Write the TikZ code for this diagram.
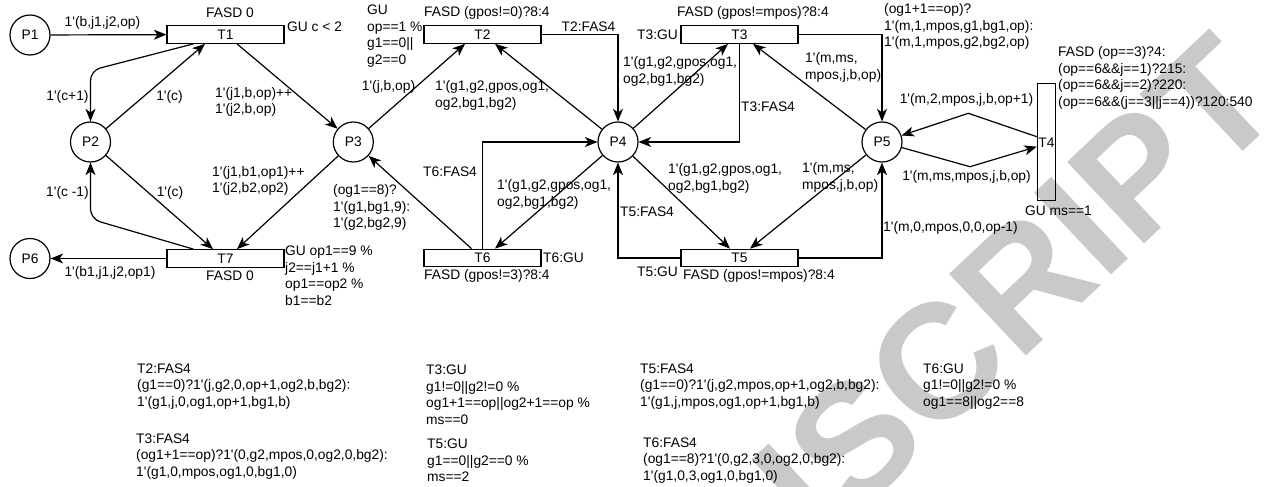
\documentclass[tikz,border=0pt]{standalone}
\usepackage{fontspec}
\setmainfont{Liberation Sans}[Ligatures=TeXOff]
\usetikzlibrary{arrows.meta,calc}

\tikzset{
  every node/.style={font=\fontsize{13.8}{16.56}\selectfont},
  placenode/.style={circle, draw, line width=1.2pt, minimum size=40pt, inner sep=0pt},
  trnode/.style={rectangle, draw, line width=1.2pt, minimum width=117pt, minimum height=17.5pt, inner sep=0pt},
  vtrnode/.style={rectangle, draw, line width=1.2pt, minimum width=18.3pt, minimum height=117pt, inner sep=0pt},
  flow/.style={line width=1.2pt, -{Stealth[length=12.5pt,width=10pt,inset=3.5pt]}},
  lbl/.style={inner sep=0pt, align=left, anchor=west},
  lblc/.style={inner sep=0pt, align=center},
}

\begin{document}
\begin{tikzpicture}[x=1pt,y=-1pt]
\fill[white] (0,0) rectangle (1266,487);
\useasboundingbox (0,0) rectangle (1266,487);

% watermark behind everything
\begin{scope}
  \clip (0,0) rectangle (1266,487);
  \node[rotate=43.3, anchor=east, inner sep=0pt, text=black!21,
        font=\fontsize{163}{163}\selectfont\bfseries] (wm) at (1250,68) {MANUSCRIPT};
\end{scope}

% places
\node[placenode] (P1) at (30,35) {P1};
\node[placenode] (P2) at (90.5,142) {P2};
\node[placenode] (P3) at (353.3,142) {P3};
\node[placenode] (P4) at (618,142) {P4};
\node[placenode] (P5) at (882,142) {P5};
\node[placenode] (P6) at (30,258.5) {P6};

% transitions
\node[trnode] (T1) at (225.5,34.5) {T1};
\node[trnode] (T2) at (482.5,34.5) {T2};
\node[trnode] (T3) at (739.5,34.5) {T3};
\node[vtrnode] (T4) at (1046.5,141.7) {};
\node[lblc] (T4t) at (1046.5,142.5) {T4};
\node[trnode] (T5) at (739.5,258) {T5};
\node[trnode] (T6) at (482.5,258) {T6};
\node[trnode] (T7) at (225.5,258.5) {T7};

% waypoints
\coordinate (w1) at (90.5,70.5);
\coordinate (w2) at (90.5,219);
\coordinate (w3) at (968.3,113.3);
\coordinate (w4) at (970,166.7);

% arcs
\draw[flow] (P1) -- (T1);
\draw[flow, rounded corners=10pt] ($(T1.south)+(-32,0)$) -- (w1) -- (P2);
\draw[flow] (P2) -- ($(T1.south)+(-20.5,0)$);
\draw[flow] ($(T1.south)+(11.5,0)$) -- (P3);
\draw[flow] (P3) -- ($(T2.south)+(-17.5,0)$);
\draw[flow] (P4) -- ($(T2.south)+(12.5,0)$);
\draw[flow] (T2.east) -| (P4);
\draw[flow] (P4) -- ($(T3.south)+(-11.5,0)$);
\draw[flow] (T3.south) |- (P4);
\draw[flow] (P5) -- ($(T3.south)+(13.5,0)$);
\draw[flow] (T3.east) -| (P5);
\draw[flow] ($(T4.west)+(0,-5)$) -- (w3) -- (P5);
\draw[flow] (P5) -- (w4) -- ($(T4.west)+(0,5)$);
\draw[flow] (P4) -- ($(T5.north)+(-9.5,0)$);
\draw[flow] (P5) -- ($(T5.north)+(10.5,0)$);
\draw[flow] (T5.west) -| (P4);
\draw[flow] (T5.east) -| (P5);
\draw[flow] (P4) -- ($(T6.north)+(12.5,0)$);
\draw[flow] (T6.north) |- (P4);
\draw[flow] ($(T6.north)+(-11,0)$) -- (P3);
\draw[flow] (P2) -- ($(T7.north)+(-12.5,0)$);
\draw[flow, rounded corners=10pt] ($(T7.north)+(-32,0)$) -- (w2) -- (P2);
\draw[flow] (P3) -- ($(T7.north)+(11.5,0)$);
\draw[flow] (T7) -- (P6);

% inscriptions, upper half
\node[lblc] (a1) at (102.5,23.3) {1'(b,j1,j2,op)};
\node[lbl] (f1) at (206,13) {FASD 0};
\node[lbl] (g1) at (287,27) {GU c < 2};
\node[lblc] (a2) at (67.5,96.7) {1'(c+1)};
\node[lblc] (a3) at (169.5,96.7) {1'(c)};
\node[lbl] (a4) at (215,102) {1'(j1,b,op)++\\1'(j2,b,op)};
\node[lblc] (a5) at (388.5,86.7) {1'(j,b,op)};
\node[lbl] (g2) at (367,36) {GU\\op==1 \%\\g1==0||\\g2==0};
\node[lbl] (f2) at (424,13) {FASD (gpos!=0)?8:4};
\node[lbl] (a6) at (435,95.7) {1'(g1,g2,gpos,og1,\\og2,bg1,bg2)};
\node[lblc] (a7) at (588.5,26.5) {T2:FAS4};
\node[lbl] (g3) at (637,35) {T3:GU};
\node[lbl] (f3) at (677,13) {FASD (gpos!=mpos)?8:4};
\node[lbl] (a8) at (623,71.5) {1'(g1,g2,gpos,og1,\\og2,bg1,bg2)};
\node[lbl] (a9) at (741,107) {T3:FAS4};
\node[lbl] (a10) at (805,67.5) {1'(m,ms,\\mpos,j,b,op)};
\node[lbl] (a11) at (884,26.7) {(og1+1==op)?\\1'(m,1,mpos,g1,bg1,op):\\1'(m,1,mpos,g2,bg2,op)};
\node[lblc] (a12) at (966.5,100) {1'(m,2,mpos,j,b,op+1)};
\node[lblc] (a13) at (966.5,176.7) {1'(m,ms,mpos,j,b,op)};
\node[lbl] (f4) at (1058,78) {FASD (op==3)?4:\\(op==6\&\&j==1)?215:\\(op==6\&\&j==2)?220:\\(op==6\&\&(j==3||j==4))?120:540};
\node[lbl] (g4) at (1025,211) {GU ms==1};

% inscriptions, lower half
\node[lbl] (b1) at (620,211.7) {T5:FAS4};
\node[lbl] (b2) at (668,178.3) {1'(g1,g2,gpos,og1,\\og2,bg1,bg2)};
\node[lbl] (b3) at (802,177.5) {1'(m,ms,\\mpos,j,b,op)};
\node[lbl] (b4) at (883,228) {1'(m,0,mpos,0,0,op-1)};
\node[lbl] (g5) at (637,271.7) {T5:GU};
\node[lbl] (f5) at (683,276) {FASD (gpos!=mpos)?8:4};
\node[lbl] (b5) at (497,194.5) {1'(g1,g2,gpos,og1,\\og2,bg1,bg2)};
\node[lbl] (b6) at (423,171.7) {T6:FAS4};
\node[lbl] (b7) at (333,207.7) {(og1==8)?\\1'(g1,bg1,9):\\1'(g2,bg2,9)};
\node[lbl] (g6) at (543,258) {T6:GU};
\node[lbl] (f6) at (424,276) {FASD (gpos!=3)?8:4};
\node[lblc] (b8) at (170,192.7) {1'(c)};
\node[lblc] (b9) at (67.5,192.7) {1'(c -1)};
\node[lbl] (b10) at (212,181) {1'(j1,b1,op1)++\\1'(j2,b2,op2)};
\node[lblc] (b11) at (110,272.7) {1'(b1,j1,j2,op1)};
\node[lbl] (f7) at (206,276) {FASD 0};
\node[lbl] (g7) at (285,275.7) {GU op1==9 \%\\j2==j1+1 \%\\op1==op2 \%\\b1==b2};

% code segments of the transitions
\node[lbl] (c1) at (137,386.6) {T2:FAS4\\(g1==0)?1'(j,g2,0,op+1,og2,b,bg2):\\1'(g1,j,0,og1,op+1,bg1,b)};
\node[lbl] (c2) at (136,456.6) {T3:FAS4\\(og1+1==op)?1'(0,g2,mpos,0,og2,0,bg2):\\1'(g1,0,mpos,og1,0,bg1,0)};
\node[lbl] (c3) at (426,394.8) {T3:GU\\g1!=0||g2!=0 \%\\og1+1==op||og2+1==op \%\\ms==0};
\node[lbl] (c4) at (427,460.6) {T5:GU\\g1==0||g2==0 \%\\ms==2};
\node[lbl] (c5) at (640,386.6) {T5:FAS4\\(g1==0)?1'(j,g2,mpos,op+1,og2,b,bg2):\\1'(g1,j,mpos,og1,op+1,bg1,b)};
\node[lbl] (c6) at (643,460.6) {T6:FAS4\\(og1==8)?1'(0,g2,3,0,og2,0,bg2):\\1'(g1,0,3,og1,0,bg1,0)};
\node[lbl] (c7) at (923,386.6) {T6:GU\\g1!=0||g2!=0 \%\\og1==8||og2==8};
\end{tikzpicture}
\end{document}
